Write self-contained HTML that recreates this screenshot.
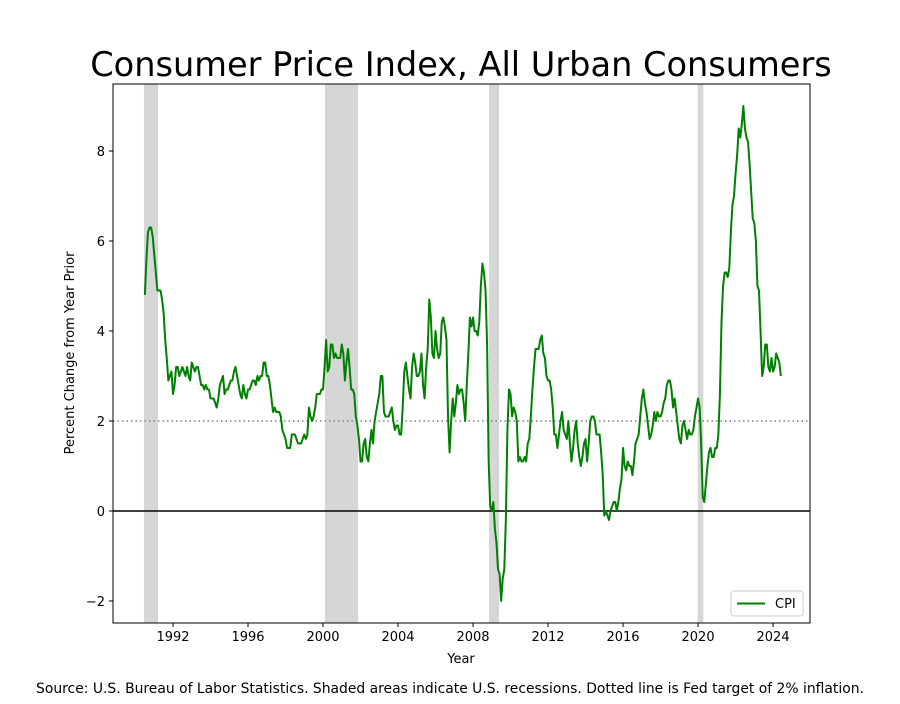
<!DOCTYPE html>
<html><head><meta charset="utf-8"><style>
body{margin:0;background:#fff;width:900px;height:700px;overflow:hidden;font-family:"DejaVu Sans","Liberation Sans",sans-serif;}
svg text{font-family:"DejaVu Sans","Liberation Sans",sans-serif;}
</style></head><body>
<svg id="chart" width="900" height="700" xmlns="http://www.w3.org/2000/svg">
<text x="461" y="76" font-size="33.6" text-anchor="middle">Consumer Price Index, All Urban Consumers</text>
<g id="rec"></g><g id="grid"></g><g id="series"></g><g id="axes"></g>
<text x="461" y="663" font-size="13" text-anchor="middle">Year</text>
<text transform="translate(74,353) rotate(-90)" font-size="13" text-anchor="middle">Percent Change from Year Prior</text>
<text x="450" y="693" font-size="13.9" text-anchor="middle">Source: U.S. Bureau of Labor Statistics. Shaded areas indicate U.S. recessions. Dotted line is Fed target of 2% inflation.</text>
<g>
<rect x="731" y="591" width="72" height="25" rx="3" fill="#fff" stroke="#ccc"/>
<line x1="737" y1="603.5" x2="765" y2="603.5" stroke="#008000" stroke-width="2"/>
<text x="775" y="608" font-size="13">CPI</text>
</g>
</svg>
<script>
const startYear = 1990.5;
const cpiValues = [
4.8,5.6,6.2,6.3,6.3,6.1,
5.7,5.3,4.9,4.9,4.9,4.7,4.4,3.8,3.4,2.9,3.0,3.1,
2.6,2.8,3.2,3.2,3.0,3.1,3.2,3.1,3.0,3.2,3.0,2.9,
3.3,3.2,3.1,3.2,3.2,3.0,2.8,2.8,2.7,2.8,2.7,2.7,
2.5,2.5,2.5,2.4,2.3,2.5,2.8,2.9,3.0,2.6,2.7,2.7,
2.8,2.9,2.9,3.1,3.2,3.0,2.8,2.6,2.5,2.8,2.6,2.5,
2.7,2.7,2.8,2.9,2.9,2.8,3.0,2.9,3.0,3.0,3.3,3.3,
3.0,3.0,2.8,2.5,2.2,2.3,2.2,2.2,2.2,2.1,1.8,1.7,
1.6,1.4,1.4,1.4,1.7,1.7,1.7,1.6,1.5,1.5,1.5,1.6,
1.7,1.6,1.7,2.3,2.1,2.0,2.1,2.3,2.6,2.6,2.6,2.7,
2.7,3.2,3.8,3.1,3.2,3.7,3.7,3.4,3.5,3.4,3.4,3.4,
3.7,3.5,2.9,3.3,3.6,3.2,2.7,2.7,2.6,2.1,1.9,1.6,
1.1,1.1,1.5,1.6,1.2,1.1,1.5,1.8,1.5,2.0,2.2,2.4,
2.6,3.0,3.0,2.2,2.1,2.1,2.1,2.2,2.3,2.0,1.8,1.9,
1.9,1.7,1.7,2.3,3.1,3.3,3.0,2.7,2.5,3.2,3.5,3.3,
3.0,3.0,3.1,3.5,2.8,2.5,3.2,3.6,4.7,4.3,3.5,3.4,
4.0,3.6,3.4,3.5,4.2,4.3,4.1,3.8,2.1,1.3,2.0,2.5,
2.1,2.4,2.8,2.6,2.7,2.7,2.4,2.0,2.8,3.5,4.3,4.1,
4.3,4.0,4.0,3.9,4.2,5.0,5.5,5.3,4.9,3.7,1.1,0.1,
0.0,0.2,-0.4,-0.7,-1.3,-1.4,-2.0,-1.5,-1.3,-0.2,1.8,2.7,
2.6,2.1,2.3,2.2,2.0,1.1,1.2,1.1,1.1,1.2,1.1,1.5,
1.6,2.1,2.7,3.2,3.6,3.6,3.6,3.8,3.9,3.5,3.4,3.0,
2.9,2.9,2.7,2.3,1.7,1.7,1.4,1.7,2.0,2.2,1.8,1.7,
1.6,2.0,1.5,1.1,1.4,1.8,2.0,1.5,1.2,1.0,1.2,1.5,
1.6,1.1,1.5,2.0,2.1,2.1,2.0,1.7,1.7,1.7,1.3,0.8,
-0.1,0.0,-0.1,-0.2,0.0,0.1,0.2,0.2,0.0,0.2,0.5,0.7,
1.4,1.0,0.9,1.1,1.0,1.0,0.8,1.1,1.5,1.6,1.7,2.1,
2.5,2.7,2.4,2.2,1.9,1.6,1.7,1.9,2.2,2.0,2.2,2.1,
2.1,2.2,2.4,2.5,2.8,2.9,2.9,2.7,2.3,2.5,2.2,1.9,
1.6,1.5,1.9,2.0,1.8,1.6,1.8,1.7,1.7,1.8,2.1,2.3,
2.5,2.3,1.5,0.3,0.2,0.6,1.0,1.3,1.4,1.2,1.2,1.4,
1.4,1.7,2.6,4.2,5.0,5.3,5.3,5.2,5.4,6.2,6.8,7.0,
7.5,7.9,8.5,8.3,8.6,9.0,8.5,8.3,8.2,7.7,7.1,6.5,
6.4,6.0,5.0,4.9,4.0,3.0,3.2,3.7,3.7,3.2,3.1,3.4,
3.1,3.2,3.5,3.4,3.3,3.0];
const recessionStarts = [1990.45, 2000.1, 2008.85, 2019.98];
const recessionEnds = [1991.2, 2001.87, 2009.39, 2020.28];
const xTicks = [1992,1996,2000,2004,2008,2012,2016,2020,2024];
const yTicks = [-2,0,2,4,6,8];
const fedTarget = 2;

const L=113,R=810,T=84,B=623;
const xMin=1988.8,xMax=2025.97,yMin=-2.49,yMax=9.49;
const X=v=>L+(v-xMin)/(xMax-xMin)*(R-L);
const Y=v=>B-(v-yMin)/(yMax-yMin)*(B-T);
const NS='http://www.w3.org/2000/svg';
function mk(tag,attrs,parent){const e=document.createElementNS(NS,tag);for(const k in attrs)e.setAttribute(k,attrs[k]);document.getElementById(parent).appendChild(e);return e;}

recessionStarts.forEach((s,i)=>{
  const r=mk('rect',{x:X(s),y:T,width:X(recessionEnds[i])-X(s),height:B-T,fill:'#d6d6d6'},'rec');
  
  
});
const tl=mk('line',{x1:L,x2:R,y1:Y(fedTarget),y2:Y(fedTarget),stroke:'#808080','stroke-width':1.5,'stroke-dasharray':'1.5,3'},'grid');


const zl=mk('line',{x1:L,x2:R,y1:Y(0),y2:Y(0),stroke:'#000','stroke-width':1.5},'grid');



const pts=cpiValues.map((v,i)=>X(startYear+i/12).toFixed(2)+','+Y(v).toFixed(2)).join(' ');
const pl=mk('polyline',{points:pts,fill:'none',stroke:'#008000','stroke-width':2,'stroke-linejoin':'round'},'series');



const fr=mk('rect',{x:L,y:T,width:R-L,height:B-T,fill:'none',stroke:'#000','stroke-width':1},'axes');


xTicks.forEach(t=>{
  mk('line',{x1:X(t),x2:X(t),y1:B,y2:B+4,stroke:'#000'},'axes');
  const tx=mk('text',{x:X(t),y:B+18,'font-size':13,'text-anchor':'middle'},'axes');
  tx.textContent=t;
  
  
});
yTicks.forEach(t=>{
  mk('line',{x1:L-4,x2:L,y1:Y(t),y2:Y(t),stroke:'#000'},'axes');
  const tx=mk('text',{x:L-8,y:Y(t)+5,'font-size':13,'text-anchor':'end'},'axes');
  tx.textContent=t<0?'\u2212'+(-t):t;
  
  
});
</script>
</body></html>
